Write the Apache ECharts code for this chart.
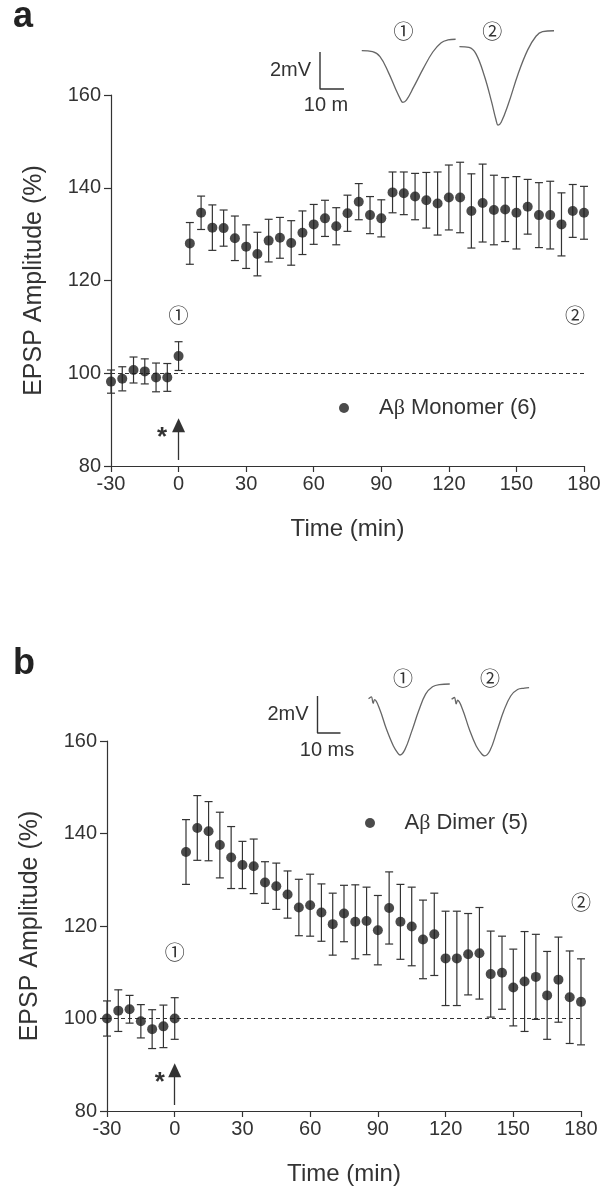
<!DOCTYPE html>
<html><head><meta charset="utf-8">
<script src="https://cdn.jsdelivr.net/npm/echarts@6/dist/echarts.min.js"></script>
<style>html,body{margin:0;padding:0;background:#fff}#c{width:605px;height:1190px}</style>
</head><body><div id="c"></div>
<script>
// ---- data ----
const times = [-30,-25,-20,-15,-10,-5,0,5,10,15,20,25,30,35,40,45,50,55,60,65,70,75,80,85,90,95,100,105,110,115,120,125,130,135,140,145,150,155,160,165,170,175,180];
const monomerMean = [98.2,98.8,100.7,100.4,99.1,99.1,103.7,128.0,134.6,131.4,131.3,129.1,127.3,125.7,128.6,129.2,128.1,130.3,132.1,133.4,131.7,134.5,137.0,134.1,133.4,139.0,138.8,138.1,137.3,136.6,137.9,137.9,135.0,136.7,135.2,135.3,134.6,135.9,134.1,134.1,132.1,135.0,134.6];
const monomerSem = [2.5,2.6,2.8,2.7,3.1,3.0,3.1,4.5,3.6,4.9,3.9,4.8,4.7,4.7,4.6,4.4,4.8,4.7,4.3,3.9,4.0,3.9,3.9,4.0,4.0,4.4,4.6,5.0,6.0,6.8,7.0,7.6,8.0,8.4,7.5,6.9,7.8,5.9,7.0,7.3,6.8,5.7,5.7];
const dimerMean = [100.0,101.7,102.0,99.4,97.7,98.3,100.0,136.0,141.2,140.5,137.5,134.8,133.2,132.9,129.4,128.6,126.8,124.0,124.5,122.9,120.4,122.7,120.9,121.1,119.1,123.9,120.9,119.9,117.1,118.2,113.0,113.0,113.9,114.1,109.6,109.9,106.7,108.0,109.0,105.0,108.4,104.6,103.6];
const dimerSem = [3.8,4.5,3.0,3.6,4.2,4.6,4.5,7.0,7.0,6.4,7.1,6.7,5.1,5.9,4.5,5.0,5.1,6.1,6.7,6.2,6.7,6.1,8.0,7.3,7.5,7.8,8.1,8.5,8.5,8.9,10.2,10.2,8.8,9.9,9.3,7.9,8.3,10.8,9.2,9.5,9.2,10.0,9.3];
const xTicks = [-30,0,30,60,90,120,150,180];
const yTicks = [80,100,120,140,160];
const seriesNames = ['A\u03b2 Monomer (6)', 'A\u03b2 Dimer (5)'];
// example EPSP traces: [ms, mV]
const traceA1 = [[17.4,2.07],[21.9,2.02],[25,1.75],[28.5,0.9],[31.5,0.0],[33.5,-0.55],[34.5,-0.72],[36,-0.6],[39,0.1],[43,1.1],[47,2.0],[50.5,2.5],[53.3,2.65],[56.5,2.69]];
const traceA2 = [[58.1,2.29],[62.1,2.25],[65,1.9],[68.5,0.7],[71.5,-0.7],[73.3,-1.65],[74.2,-1.95],[75.5,-1.8],[78.5,-0.8],[82.5,0.8],[86.5,2.1],[90,2.85],[92.7,3.1],[97.5,3.15]];
const traceB1 = [[22.2,1.85],[23.4,1.95],[24.2,1.6],[24.8,1.8],[27,1.3],[30,0.2],[33,-0.7],[35,-1.1],[35.9,-1.19],[38,-0.9],[41,0.1],[44,1.2],[47,2.1],[50,2.5],[53,2.62],[57.5,2.65]];
const traceB2 = [[58.3,1.82],[59.5,1.92],[60.3,1.57],[60.9,1.77],[63,1.3],[66,0.2],[69,-0.7],[71.5,-1.15],[72.7,-1.24],[75,-0.95],[78,0.1],[81,1.2],[84,2.0],[87,2.35],[90,2.42],[92,2.45]];
const scaleBar = [[0,2],[0,0],[10,0]]; // 2 mV, 10 ms

const FONT = 'Liberation Sans, Arial, Helvetica, sans-serif';
const TXT = '#333';

const chart = echarts.init(document.getElementById('c'), null, {renderer:'canvas'});

function errRender(params, api){
  const x = api.value(0), m = api.value(1), s = api.value(2);
  const t = api.coord([x, m + s]), b = api.coord([x, m - s]);
  const hw = 4, st = {stroke:'#333', lineWidth:1.2};
  return {type:'group', children:[
    {type:'line', shape:{x1:t[0],y1:t[1],x2:b[0],y2:b[1]}, style:st},
    {type:'line', shape:{x1:t[0]-hw,y1:t[1],x2:t[0]+hw,y2:t[1]}, style:st},
    {type:'line', shape:{x1:b[0]-hw,y1:b[1],x2:b[0]+hw,y2:b[1]}, style:st}
  ]};
}

function mainX(gi){
  return {gridIndex:gi, type:'value', min:-30, max:180, interval:30,
    axisLine:{show:true, onZero:false, lineStyle:{color:'#333', width:1.2}},
    axisTick:{show:true, length:6, lineStyle:{color:'#333', width:1.2}},
    splitLine:{show:false},
    axisLabel:{fontSize:20, color:TXT, fontFamily:FONT, margin:8, formatter: v => String(v)},
    name:'Time (min)', nameLocation:'middle', nameGap:51,
    nameTextStyle:{fontSize:24, color:TXT, fontFamily:FONT}};
}
function mainY(gi){
  return {gridIndex:gi, type:'value', min:80, max:160, interval:20,
    axisLine:{show:true, onZero:false, lineStyle:{color:'#333', width:1.2}},
    axisTick:{show:true, length:7, lineStyle:{color:'#333', width:1.2}},
    splitLine:{show:false},
    axisLabel:{fontSize:20, color:TXT, fontFamily:FONT, margin:10},
    name:'EPSP Amplitude (%)', nameLocation:'middle', nameGap:64,
    nameTextStyle:{fontSize:25, color:TXT, fontFamily:FONT}};
}
function hidden(gi, min, max){
  return {gridIndex:gi, type:'value', min:min, max:max, show:false, splitLine:{show:false}};
}

function dots(name, xi, mean){
  return {name:name, type:'scatter', xAxisIndex:xi, yAxisIndex:xi,
    data: times.map((t,i)=>[t, mean[i]]), symbol:'circle', symbolSize:10,
    itemStyle:{color:'#1e1e1e'}, z:5,
    markLine:{silent:true, animation:false, label:{show:false},
      data:[
        [{coord:[-30,100], symbol:'none', lineStyle:{type:[4,3], color:'#333', width:1}}, {coord:[180,100], symbol:'none'}],
        [{coord:[0,81.3], symbol:'none', lineStyle:{type:'solid', color:'#333', width:1.3}}, {coord:[0,88.8], symbol:'triangle', symbolSize:[13,14]}]
      ]}};
}
function errs(xi, mean, sem){
  return {type:'custom', xAxisIndex:xi, yAxisIndex:xi, renderItem:errRender,
    data: times.map((t,i)=>[t, mean[i], sem[i]]), encode:{x:0, y:1}, z:4, silent:true};
}
function trace(xi, data){
  return {type:'line', xAxisIndex:xi, yAxisIndex:xi, data:data, smooth:0.4, showSymbol:false,
    lineStyle:{color:'#666', width:1.3}, silent:true, animation:false};
}
function bar(xi){
  return {type:'line', xAxisIndex:xi, yAxisIndex:xi, data:scaleBar, showSymbol:false,
    lineStyle:{color:'#333', width:1.4}, silent:true, animation:false};
}

const legendFmt = n => n.replace('\u03b2', '{g|\u03b2}');
const legTxt = {fontSize:22, color:TXT, fontFamily:FONT, rich:{g:{fontSize:22, color:TXT, fontFamily:'Liberation Serif, Times New Roman, serif'}}};

chart.setOption({
  animation:false,
  backgroundColor:'#fff',
  grid:[
    {left:111, right:21, top:95, height:371, outerBoundsMode:'none'},
    {left:107, right:24, top:741, height:370, outerBoundsMode:'none'},
    {left:296, top:15, width:264, height:120.25, outerBoundsMode:'none'},
    {left:294.5, top:659, width:253, height:120.25, outerBoundsMode:'none'}
  ],
  xAxis:[mainX(0), mainX(1), hidden(2,-10,100), hidden(3,-10,100)],
  yAxis:[mainY(0), mainY(1), hidden(2,-2.5,4), hidden(3,-2.5,4)],
  legend:[
    {data:[seriesNames[0]], left:339, top:397, padding:0, itemWidth:60, itemHeight:10, icon:'circle',
     formatter:legendFmt, textStyle:legTxt, selectedMode:false},
    {data:[seriesNames[1]], left:365, top:812, padding:0, itemWidth:59, itemHeight:10, icon:'circle',
     formatter:legendFmt, textStyle:legTxt, selectedMode:false}
  ],
  series:[
    errs(0, monomerMean, monomerSem),
    dots(seriesNames[0], 0, monomerMean),
    errs(1, dimerMean, dimerSem),
    dots(seriesNames[1], 1, dimerMean),
    trace(2, traceA1), trace(2, traceA2), bar(2),
    trace(3, traceB1), trace(3, traceB2), bar(3)
  ]
});

// annotations anchored through the library's coordinate systems
function px(gi, pt){ return chart.convertToPixel({gridIndex:gi}, pt); }
const CIRC = 'Noto Sans CJK JP, DejaVu Sans, sans-serif';
function txt(p, s, size, extra){
  return {type:'text', x:p[0], y:p[1], style:Object.assign({text:s, fontSize:size, fill:TXT,
    fontFamily:FONT, align:'center', verticalAlign:'middle'}, extra||{})};
}
const CS = 20;
const g = [];
g.push(txt(px(0,[0,112.5]), '\u2460', CS, {fontFamily:CIRC}));
g.push(txt(px(0,[176,112.5]), '\u2461', CS, {fontFamily:CIRC}));
g.push(txt(px(1,[0,114.2]), '\u2460', CS, {fontFamily:CIRC}));
g.push(txt(px(1,[180,125]), '\u2461', CS, {fontFamily:CIRC}));
g.push(txt(px(2,[34.8,3.1]), '\u2460', CS, {fontFamily:CIRC}));
g.push(txt(px(2,[71.8,3.1]), '\u2461', CS, {fontFamily:CIRC}));
g.push(txt(px(3,[37.2,2.97]), '\u2460', CS, {fontFamily:CIRC}));
g.push(txt(px(3,[75,2.97]), '\u2461', CS, {fontFamily:CIRC}));
let s = px(0,[-7.3,87.3]); g.push(txt([s[0], s[1]+6], '*', 26, {fontWeight:'bold'}));
s = px(1,[-6.6,87.4]); g.push(txt([s[0], s[1]+6], '*', 26, {fontWeight:'bold'}));
// scale bar labels
let c = px(2,[0,1]); g.push(txt([c[0]-9, c[1]], '2mV', 20, {align:'right'}));
c = px(2,[5,0]); g.push(txt([c[0]-6, c[1]+16], '10 m', 20));
c = px(3,[0,1]); g.push(txt([c[0]-9, c[1]], '2mV', 20, {align:'right'}));
c = px(3,[5,0]); g.push(txt([c[0]-2, c[1]+17], '10 ms', 20));
// panel letters
g.push(txt([13,17.5], 'a', 36, {align:'left', fontWeight:'bold', fill:'#222'}));
g.push(txt([13,664.5], 'b', 36, {align:'left', fontWeight:'bold', fill:'#222'}));
chart.setOption({graphic:g});
</script>
</body></html>
